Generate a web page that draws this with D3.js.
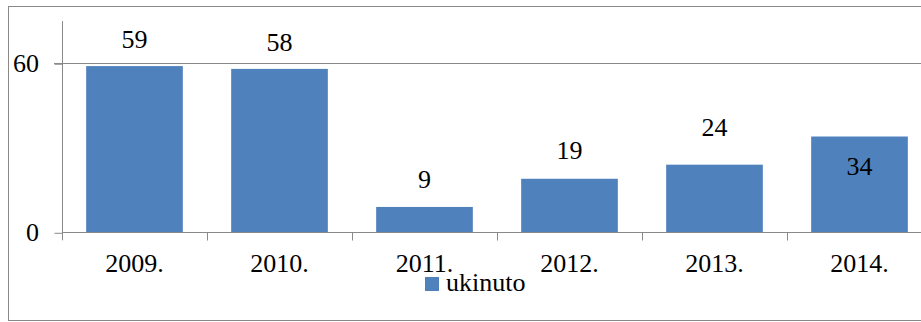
<!DOCTYPE html>
<html>
<head>
<meta charset="utf-8">
<script src="https://cdn.jsdelivr.net/npm/d3@7"></script>
</head>
<body style="margin:0">
<svg id="chart" width="921" height="322"></svg>
<script>
// Data
const years = ["2009.", "2010.", "2011.", "2012.", "2013.", "2014."];
const values = [59, 58, 9, 19, 24, 34];
const seriesName = "ukinuto";
const yTicks = [0, 60];

// Layout
const W = 921, H = 322;
const plot = { left: 62, top: 21, bottom: 232.3, right: 932 };
const barColor = "#4F81BD";
const lineColor = "#898989";
const fontFamily = "Tinos, 'Liberation Serif', FreeSerif, serif";
const fontSize = 26;
// Baseline offset of each value label relative to its bar top (px)
const labelShift = [-18, -18, -18.5, -19.5, -29, 38.5];

const svg = d3.select("#chart");

function addText(parent, x, y, str, anchor) {
  return parent.append("text")
    .attr("x", x).attr("y", y)
    .attr("text-anchor", anchor)
    .attr("font-size", fontSize)
    .style("font-family", fontFamily)
    .text(str);
}

// Chart frame
svg.append("rect")
  .attr("x", 8.5).attr("y", 6.5)
  .attr("width", 930).attr("height", 314)
  .attr("fill", "none").attr("stroke", lineColor).attr("stroke-width", 1);

const x = d3.scaleBand()
  .domain(years)
  .range([plot.left, plot.right])
  .paddingInner(1 / 3)
  .paddingOuter(1 / 6);

const y = d3.scaleLinear()
  .domain([0, 75])
  .range([plot.bottom, plot.top]);

// Gridline at the upper tick
yTicks.filter(d => d > 0).forEach(t => {
  svg.append("line")
    .attr("x1", plot.left - 8).attr("x2", W)
    .attr("y1", Math.round(y(t)) + 0.5).attr("y2", Math.round(y(t)) + 0.5)
    .attr("stroke", lineColor);
});

// Bars
svg.append("g")
  .selectAll("rect")
  .data(values)
  .join("rect")
  .attr("x", (d, i) => x(years[i]))
  .attr("width", x.bandwidth())
  .attr("y", d => y(d))
  .attr("height", d => y(0) - y(d))
  .attr("fill", barColor);

// Y axis: ticks built by d3.axisLeft, labels drawn in the chart font
const gy = svg.append("g")
  .attr("transform", `translate(${plot.left + 0.5},0)`)
  .call(d3.axisLeft(y).tickValues(yTicks).tickSize(8).tickFormat(""));
gy.select(".domain").remove();
gy.selectAll(".tick line").attr("stroke", lineColor).attr("transform", "translate(0,0.5)");
gy.append("line")
  .attr("x1", 0).attr("x2", 0)
  .attr("y1", y(75)).attr("y2", y(0) + 8)
  .attr("stroke", lineColor);
yTicks.forEach(t => addText(svg, plot.left - 23, y(t) + 9, d3.format("d")(t), "end"));

// X axis line with category separators
const xAxisY = Math.round(y(0)) + 0.5;
svg.append("line")
  .attr("x1", plot.left).attr("x2", W)
  .attr("y1", xAxisY).attr("y2", xAxisY)
  .attr("stroke", lineColor);
const step = x.step();
d3.range(1, years.length).forEach(i => {
  const px = Math.round(plot.left + i * step) + 0.5;
  svg.append("line")
    .attr("x1", px).attr("x2", px)
    .attr("y1", xAxisY).attr("y2", xAxisY + 8)
    .attr("stroke", lineColor);
});

// Category labels and value labels
years.forEach((yr, i) => {
  const cx = x(yr) + x.bandwidth() / 2;
  addText(svg, cx, 272.3, yr, "middle");
  addText(svg, cx, y(values[i]) + labelShift[i], String(values[i]), "middle");
});

// Legend
svg.append("rect")
  .attr("x", 425).attr("y", 277)
  .attr("width", 14).attr("height", 14)
  .attr("fill", barColor);
addText(svg, 446, 291, seriesName, "start");
</script>
</body>
</html>
